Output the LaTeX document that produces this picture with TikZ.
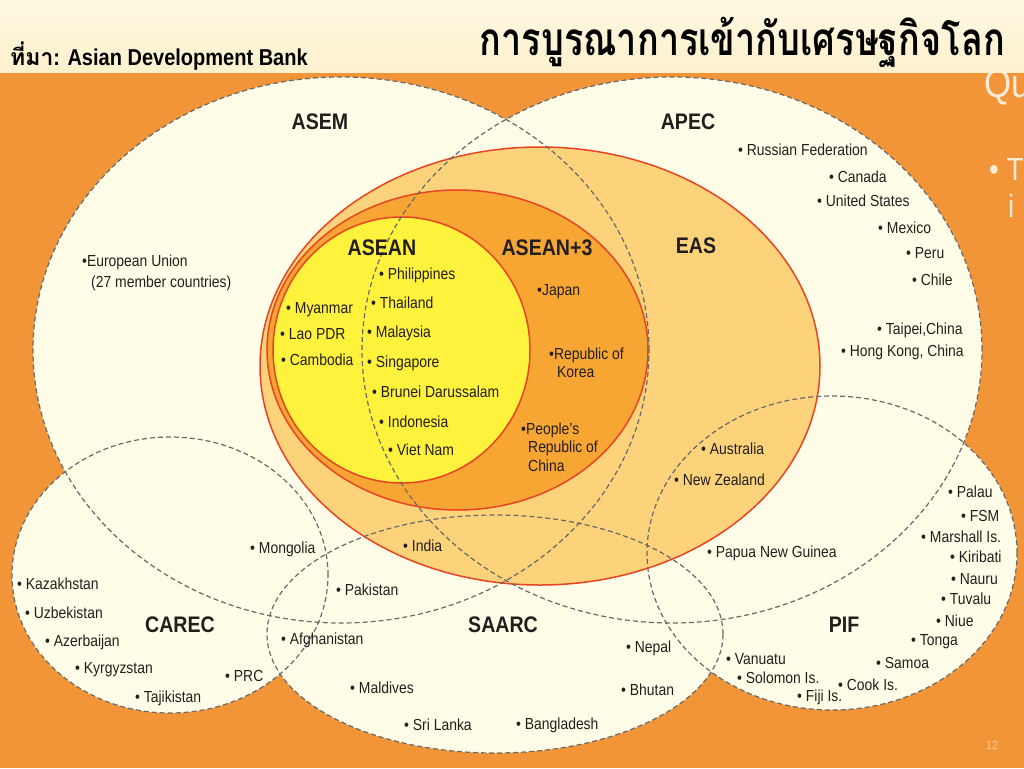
\documentclass[tikz,border=0pt]{standalone}
\usepackage{fontspec}
\setmainfont{Liberation Sans}[FakeStretch=0.87]
\newfontfamily\thaifont[Script=Thai]{Loma}
\definecolor{bgorange}{RGB}{242,148,56}
\definecolor{headc}{RGB}{253,241,205}
\definecolor{headtop}{RGB}{254,248,226}
\definecolor{creamc}{RGB}{255,253,232}
\definecolor{easc}{RGB}{252,211,122}
\definecolor{atc}{RGB}{247,166,52}
\definecolor{aseanc}{RGB}{255,242,60}
\definecolor{redc}{RGB}{232,68,35}
\definecolor{dashgray}{RGB}{105,105,105}
\definecolor{txt}{RGB}{35,30,30}
\definecolor{ghost}{RGB}{252,236,214}
\definecolor{pgc}{RGB}{250,205,160}
\begin{document}
\begin{tikzpicture}[x=1pt,y=-1pt]
\tikzset{
 lbl/.style={anchor=west, inner sep=0pt, font=\fontsize{16}{18}\selectfont, text=txt},
 grp/.style={inner sep=0pt, font=\fontsize{22.5}{25}\selectfont\bfseries, text=txt},
 dashring/.style={draw=dashgray, line width=1.2pt, dash pattern=on 5pt off 3pt},
 redring/.style={draw=redc, line width=1.5pt},
 ghosttxt/.style={inner sep=0pt, anchor=base west, text=ghost},
}
\useasboundingbox (0,0) rectangle (1024,768);
% background
\fill[bgorange] (0,0) rectangle (1024,768);
% ghost text of underlying slide
\node[ghosttxt, font=\fontsize{40}{44}\selectfont] (gq) at (984,97) {Qu};
\node[ghosttxt, font=\fontsize{32}{36}\selectfont] (gt) at (989,180) {• T};
\node[ghosttxt, font=\fontsize{32}{36}\selectfont] (gi) at (1008,217) {i};
\node[inner sep=0pt, text=pgc, font=\fontsize{12}{14}\selectfont] (pg) at (992,745) {12};
\shade[top color=headtop, bottom color=headc] (0,0) rectangle (1024,72);
% cream outer ellipses
\fill[creamc] (341,350) ellipse [x radius=308pt, y radius=273pt];
\fill[creamc] (672,350) ellipse [x radius=310pt, y radius=273pt];
\fill[creamc] (170,575) ellipse [x radius=158pt, y radius=138pt];
\fill[creamc] (495,634) ellipse [x radius=228pt, y radius=119pt];
\fill[creamc] (832,553) ellipse [x radius=185pt, y radius=157pt];
% EAS, ASEAN+3, ASEAN
\filldraw[fill=easc, redring] (540,366) ellipse [x radius=280pt, y radius=219pt];
\filldraw[fill=atc, redring] (457.5,350) ellipse [x radius=190.5pt, y radius=160pt];
\filldraw[fill=aseanc, redring] (401.5,350) ellipse [x radius=128.5pt, y radius=133pt];
% dashed outlines
\draw[dashring] (341,350) ellipse [x radius=308pt, y radius=273pt];
\draw[dashring] (672,350) ellipse [x radius=310pt, y radius=273pt];
\draw[dashring] (170,575) ellipse [x radius=158pt, y radius=138pt];
\draw[dashring] (495,634) ellipse [x radius=228pt, y radius=119pt];
\draw[dashring] (832,553) ellipse [x radius=185pt, y radius=157pt];
% header texts
\node[inner sep=0pt, anchor=east] (title) at (1005,42)
  {\scalebox{1.06}[1.35]{\thaifont\bfseries\fontsize{34}{38}\selectfont การบูรณาการเข้ากับเศรษฐกิจโลก}};
\node[inner sep=0pt, anchor=base west, font=\fontsize{23}{26}\selectfont\bfseries, text=black] (src) at (10,66)
  {{\thaifont ที่มา}: Asian Development Bank};
% group names
\node[grp] (asem) at (320,122) {ASEM};
\node[grp] (apec) at (688,122) {APEC};
\node[grp] (eas) at (696,246) {EAS};
\node[grp] (asean) at (382,248) {ASEAN};
\node[grp] (asean3) at (547,248) {ASEAN+3};
\node[grp] (carec) at (180,625) {CAREC};
\node[grp] (saarc) at (503,625) {SAARC};
\node[grp] (pif) at (844,625) {PIF};
% ASEM
\node[lbl] (eu) at (82,262) {\textbullet European Union};
\node[lbl] (eu2) at (91,283) {(27 member countries)};
% APEC
\node[lbl] (rus) at (738,150) {\textbullet\ Russian Federation};
\node[lbl] (can) at (829,177) {\textbullet\ Canada};
\node[lbl] (usa) at (817,201) {\textbullet\ United States};
\node[lbl] (mex) at (878,228) {\textbullet\ Mexico};
\node[lbl] (per) at (906,253) {\textbullet\ Peru};
\node[lbl] (chl) at (912,280) {\textbullet\ Chile};
\node[lbl] (tpe) at (877,330) {\textbullet\ Taipei,China};
\node[lbl] (hkg) at (841,352) {\textbullet\ Hong Kong, China};
% ASEAN
\node[lbl] (phl) at (379,275) {\textbullet\ Philippines};
\node[lbl] (tha) at (371,303) {\textbullet\ Thailand};
\node[lbl] (mys) at (367,333) {\textbullet\ Malaysia};
\node[lbl] (sgp) at (367,363) {\textbullet\ Singapore};
\node[lbl] (brn) at (372,392) {\textbullet\ Brunei Darussalam};
\node[lbl] (idn) at (379,422) {\textbullet\ Indonesia};
\node[lbl] (vnm) at (388,450) {\textbullet\ Viet Nam};
\node[lbl] (mmr) at (286,310) {\textbullet\ Myanmar};
\node[lbl] (lao) at (280,334) {\textbullet\ Lao PDR};
\node[lbl] (khm) at (281,360) {\textbullet\ Cambodia};
% ASEAN+3
\node[lbl] (jpn) at (537,292) {\textbullet Japan};
\node[lbl] (kor) at (549,355) {\textbullet Republic of};
\node[lbl] (kor2) at (557,372) {Korea};
\node[lbl] (chn) at (521,430) {\textbullet People's};
\node[lbl] (chn2) at (528,448) {Republic of};
\node[lbl] (chn3) at (528,466) {China};
% EAS
\node[lbl] (aus) at (701,449) {\textbullet\ Australia};
\node[lbl] (nzl) at (674,480) {\textbullet\ New Zealand};
% PIF
\node[lbl] (png) at (707,553) {\textbullet\ Papua New Guinea};
\node[lbl] (plw) at (948,492) {\textbullet\ Palau};
\node[lbl] (fsm) at (961,516) {\textbullet\ FSM};
\node[lbl] (mhl) at (921,537) {\textbullet\ Marshall Is.};
\node[lbl] (kir) at (950,557) {\textbullet\ Kiribati};
\node[lbl] (nru) at (951,579) {\textbullet\ Nauru};
\node[lbl] (tuv) at (941,599) {\textbullet\ Tuvalu};
\node[lbl] (niu) at (936,621) {\textbullet\ Niue};
\node[lbl] (ton) at (911,642) {\textbullet\ Tonga};
\node[lbl] (wsm) at (876,663) {\textbullet\ Samoa};
\node[lbl] (cok) at (838,685) {\textbullet\ Cook Is.};
\node[lbl] (fji) at (797,697) {\textbullet\ Fiji Is.};
\node[lbl] (slb) at (737,678) {\textbullet\ Solomon Is.};
\node[lbl] (vut) at (726,659) {\textbullet\ Vanuatu};
% CAREC
\node[lbl] (mng) at (250,549) {\textbullet\ Mongolia};
\node[lbl] (kaz) at (17,584) {\textbullet\ Kazakhstan};
\node[lbl] (uzb) at (25,613) {\textbullet\ Uzbekistan};
\node[lbl] (aze) at (45,642) {\textbullet\ Azerbaijan};
\node[lbl] (kgz) at (75,670) {\textbullet\ Kyrgyzstan};
\node[lbl] (tjk) at (135,698) {\textbullet\ Tajikistan};
\node[lbl] (prc) at (225,676) {\textbullet\ PRC};
% SAARC
\node[lbl] (ind) at (403,546) {\textbullet\ India};
\node[lbl] (pak) at (336,590) {\textbullet\ Pakistan};
\node[lbl] (afg) at (281,640) {\textbullet\ Afghanistan};
\node[lbl] (mdv) at (350,688) {\textbullet\ Maldives};
\node[lbl] (lka) at (404,725) {\textbullet\ Sri Lanka};
\node[lbl] (bgd) at (516,725) {\textbullet\ Bangladesh};
\node[lbl] (npl) at (626,648) {\textbullet\ Nepal};
\node[lbl] (btn) at (621,690) {\textbullet\ Bhutan};
\end{tikzpicture}
\end{document}
